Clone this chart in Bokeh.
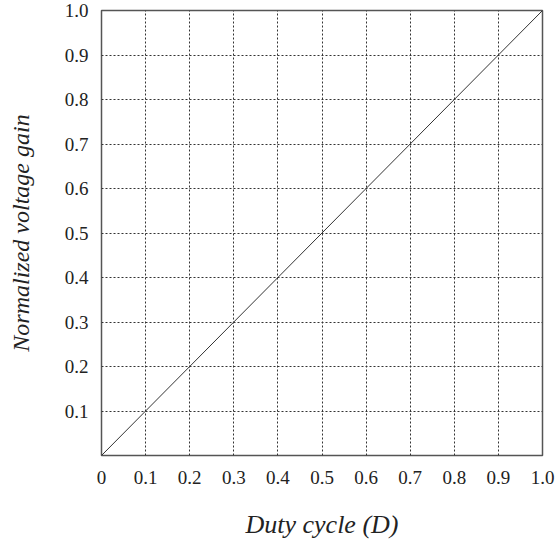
from bokeh.plotting import figure
from bokeh.models import FixedTicker, Range1d
from bokeh.embed import file_html
from bokeh.resources import INLINE

# Data
duty = [0.0, 1.0]
gain = [0.0, 1.0]
x_ticks = [0.0, 0.1, 0.2, 0.3, 0.4, 0.5, 0.6, 0.7, 0.8, 0.9, 1.0]
x_labels = ["0", "0.1", "0.2", "0.3", "0.4", "0.5", "0.6", "0.7", "0.8", "0.9", "1.0"]
y_ticks = [0.1, 0.2, 0.3, 0.4, 0.5, 0.6, 0.7, 0.8, 0.9, 1.0]
y_labels = ["0.1", "0.2", "0.3", "0.4", "0.5", "0.6", "0.7", "0.8", "0.9", "1.0"]

p = figure(frame_width=441, frame_height=445,
           min_border_left=101, min_border_right=13,
           min_border_top=10, min_border_bottom=88,
           x_range=Range1d(0, 1), y_range=Range1d(0, 1),
           output_backend="svg", toolbar_location=None,
           background_fill_color="white", border_fill_color="white")

p.line(duty, gain, line_color="#333333", line_width=1)

serif = "Liberation Serif"

p.xaxis.ticker = FixedTicker(ticks=x_ticks)
p.yaxis.ticker = FixedTicker(ticks=y_ticks)
p.xaxis.major_label_overrides = {t: l for t, l in zip(x_ticks, x_labels)}
p.yaxis.major_label_overrides = {t: l for t, l in zip(y_ticks, y_labels)}

for ax in (p.xaxis, p.yaxis):
    ax.axis_line_color = None
    ax.major_tick_line_color = None
    ax.minor_tick_line_color = None
    ax.major_tick_out = 0
    ax.major_tick_in = 0
    ax.major_label_text_font = serif
    ax.major_label_text_font_size = "19px"
    ax.major_label_text_color = "#222222"
    ax.axis_label_text_font = serif
    ax.axis_label_text_font_style = "italic"
    ax.axis_label_text_color = "#222222"

p.xaxis.axis_label_text_font_size = "26px"
p.yaxis.axis_label_text_font_size = "24px"
p.xaxis.axis_label = "Duty cycle (D)"
p.yaxis.axis_label = "Normalized voltage gain"
p.xaxis.major_label_standoff = 15
p.yaxis.major_label_standoff = 13
p.xaxis.axis_label_standoff = 23
p.yaxis.axis_label_standoff = 28

for g in (p.xgrid, p.ygrid):
    g.grid_line_color = "#333333"
    g.grid_line_dash = "2 2"
    g.grid_line_width = 1

p.outline_line_color = "#555555"
p.outline_line_width = 1.5

open("out.html", "w").write(file_html(p, INLINE))
